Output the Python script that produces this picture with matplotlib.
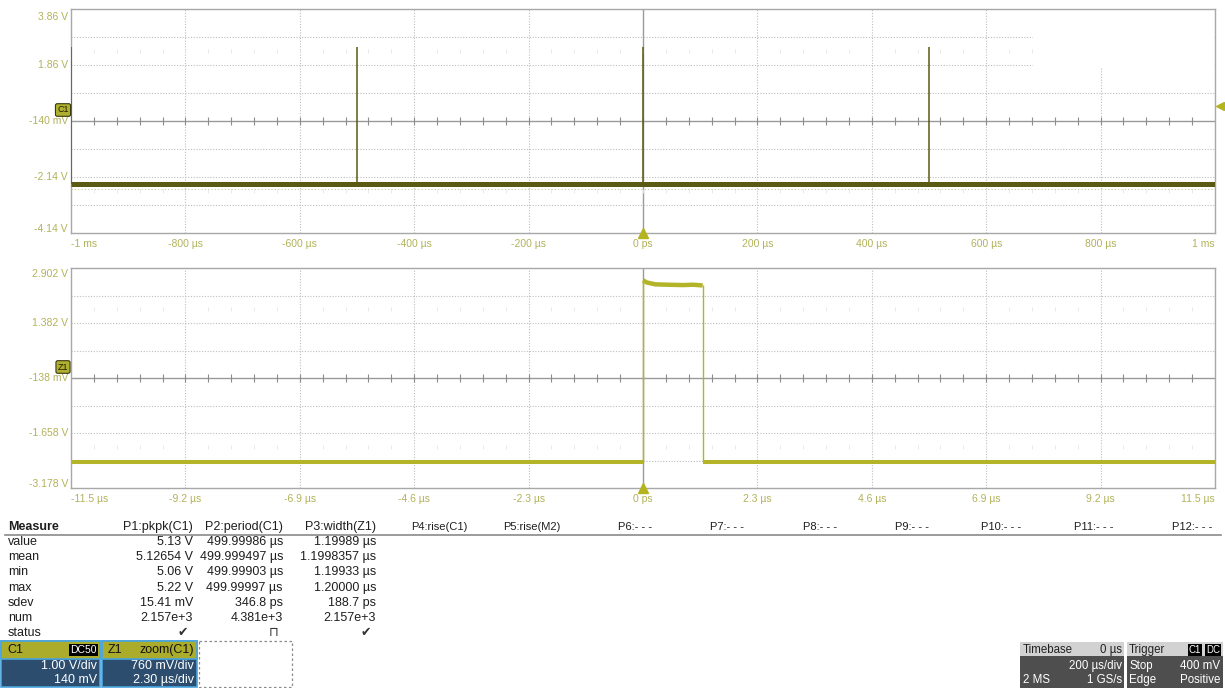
import matplotlib.pyplot as plt
from matplotlib.patches import Rectangle
import matplotlib.transforms as mtrans

plt.rcParams['font.family'] = ['Liberation Sans', 'DejaVu Sans']

W, H = 1225, 688

# channel C1, 200 us/div, 1 V/div
c1_xlabels = ['-1 ms', '-800 µs', '-600 µs', '-400 µs', '-200 µs', '0 ps',
              '200 µs', '400 µs', '600 µs', '800 µs', '1 ms']
c1_ylabels = ['3.86 V', '1.86 V', '-140 mV', '-2.14 V', '-4.14 V']
c1_tdiv, c1_vdiv, c1_offset = 200.0, 1.0, -0.14
c1_pulse_times = [-1000, -500, 0, 500]     # us
c1_low, c1_high = -2.40, 2.50              # V
trig_level = 0.40

# zoom Z1, 2.30 us/div, 760 mV/div
z1_xlabels = ['-11.5 µs', '-9.2 µs', '-6.9 µs', '-4.6 µs', '-2.3 µs', '0 ps',
              '2.3 µs', '4.6 µs', '6.9 µs', '9.2 µs', '11.5 µs']
z1_ylabels = ['2.902 V', '1.382 V', '-138 mV', '-1.658 V', '-3.178 V']
z1_tdiv, z1_vdiv, z1_offset = 2.3, 0.76, -0.138
z1_low = -2.46
z1_top_t = [0.0, 0.08, 0.25, 0.5, 0.8, 1.0, 1.2]
z1_top_v = [2.56, 2.50, 2.45, 2.44, 2.43, 2.44, 2.42]

# measurement table
row_names = ['value', 'mean', 'min', 'max', 'sdev', 'num', 'status']
p_headers = ['P1:pkpk(C1)', 'P2:period(C1)', 'P3:width(Z1)', 'P4:rise(C1)',
             'P5:rise(M2)', 'P6:- - -', 'P7:- - -', 'P8:- - -', 'P9:- - -',
             'P10:- - -', 'P11:- - -', 'P12:- - -']
p1_vals = ['5.13 V', '5.12654 V', '5.06 V', '5.22 V', '15.41 mV', '2.157e+3', '✔']
p2_vals = ['499.99986 µs', '499.999497 µs', '499.99903 µs', '499.99997 µs',
           '346.8 ps', '4.381e+3', '⊓']
p3_vals = ['1.19989 µs', '1.1998357 µs', '1.19933 µs', '1.20000 µs',
           '188.7 ps', '2.157e+3', '✔']

TXT = '#b2b25a'
GRID = '#bdbdbd'
C1_COL = '#5a5a12'
Z1_COL = '#b4b428'

fig = plt.figure(figsize=(W / 100, H / 100), dpi=100)


def px_axes(left, top, right, bottom):
    return fig.add_axes([left / W, 1 - bottom / H, (right - left) / W, (bottom - top) / H])


def scope_grid(ax, tdiv, vdiv, off, xlabels, ylabels, tag, top_dy):
    xmin, xmax = -5 * tdiv, 5 * tdiv
    ymin, ymax = off - 4 * vdiv, off + 4 * vdiv
    ax.set_xlim(xmin, xmax)
    ax.set_ylim(ymin, ymax)
    for k in range(1, 10):
        if k == 5:
            ax.axvline(xmin + k * tdiv, color='#9a9a9a', lw=1.0, zorder=1)
        else:
            ax.axvline(xmin + k * tdiv, color=GRID, lw=0.8, ls=(0, (1, 1.5)), zorder=1)
    for k in range(1, 8):
        if k == 4:
            ax.axhline(ymin + k * vdiv, color='#9a9a9a', lw=1.0, zorder=1)
        else:
            ax.axhline(ymin + k * vdiv, color=GRID, lw=0.8, ls=(0, (1, 1.5)), zorder=1)
    xs = [xmin + j * tdiv / 5 for j in range(1, 50)]
    ax.plot(xs, [off] * len(xs), ls='none', marker='|', ms=6, mew=0.8,
            color='#8c8c8c', zorder=2)
    for s in (-2.5, 2.5):
        ax.plot(xs, [off + s * vdiv] * len(xs), ls='none', marker='|', ms=3.5,
                mew=0.6, color='#e6e6e6', zorder=1)
    for sp in ax.spines.values():
        sp.set_color('#a8a8a8')
        sp.set_linewidth(1.0)
        sp.set_zorder(3.5)
    ax.set_xticks([xmin + k * tdiv for k in range(11)])
    ax.set_xticklabels(xlabels)
    ax.set_yticks([])
    ax.tick_params(length=0, labelsize=7.5, labelcolor=TXT)
    ax.tick_params(axis='x', pad=4)
    xl = ax.get_xticklabels()
    xl[0].set_ha('left')
    xl[-1].set_ha('right')
    # voltage labels, outer ones nudged inside like the scope does
    for k, lab in enumerate(ylabels):
        dy = top_dy if k == 0 else (4 if k == 4 else 0)
        ax.annotate(lab, xy=(0, ymax - k * 2 * vdiv), xycoords=('axes fraction', 'data'),
                    xytext=(-3, dy), textcoords='offset pixels', ha='right',
                    va='center', fontsize=7.5, color=TXT, annotation_clip=False)
    # trigger arrow at t = 0
    ax.plot(0, ymin, marker='^', ms=7, color='#b4b420', clip_on=False, zorder=9)
    # channel tag
    ax.annotate(tag, xy=(xmin, off), xytext=(-8, 11), textcoords='offset pixels',
                ha='center', va='center', fontsize=6.5, color='#202000',
                bbox=dict(boxstyle='round,pad=0.2', fc='#b0b030', ec='#3a3a10', lw=0.8),
                annotation_clip=False, zorder=9)
    return xmin, xmax


# ---- top panel: C1 ----
ax1 = px_axes(71, 9, 1215, 233)
x0, x1 = scope_grid(ax1, c1_tdiv, c1_vdiv, c1_offset, c1_xlabels, c1_ylabels, 'C1', -8)
# screen region left blank in the capture (upper right corner)
ax1.add_patch(Rectangle((0.841, 0.737), 0.158, 0.26, transform=ax1.transAxes,
                        fc='white', ec='none', zorder=3))
ax1.plot([x0, x1], [c1_low - 0.17] * 2, color='#c9c99a', lw=0.8, ls=(0, (1, 2)), zorder=3)
ax1.plot([x0, x1], [c1_low, c1_low], color=C1_COL, lw=3.6, solid_capstyle='butt', zorder=4)
ax1.vlines(c1_pulse_times, c1_low, c1_high, color=C1_COL, lw=1.1, zorder=4)
shift = mtrans.offset_copy(ax1.transData, fig=fig, x=5, y=0, units='dots')
ax1.plot(x1, trig_level, marker='<', ms=6, color='#b4b420', transform=shift,
         clip_on=False, zorder=9)

# ---- bottom panel: Z1 ----
ax2 = px_axes(71, 268, 1215, 488)
x0, x1 = scope_grid(ax2, z1_tdiv, z1_vdiv, z1_offset, z1_xlabels, z1_ylabels, 'Z1', -6)
ax2.plot([x0, z1_top_t[0]], [z1_low, z1_low], color=Z1_COL, lw=2.9,
         solid_capstyle='butt', zorder=4)
ax2.plot([z1_top_t[-1], x1], [z1_low, z1_low], color=Z1_COL, lw=2.9,
         solid_capstyle='butt', zorder=4)
ax2.plot(z1_top_t, z1_top_v, color=Z1_COL, lw=3.2, solid_capstyle='butt', zorder=4)
ax2.vlines([z1_top_t[0], z1_top_t[-1]], z1_low, [z1_top_v[0], z1_top_v[-1]],
           color=Z1_COL, lw=1.0, zorder=4)

# ---- overlay for the table and info boxes (pixel coords) ----
ov = fig.add_axes([0, 0, 1, 1], zorder=-1)
ov.set_xlim(0, W)
ov.set_ylim(H, 0)
ov.axis('off')

FS = 9
ink = '#1e1e1e'
ov.text(8, 527, 'Measure', fontsize=FS, fontweight='bold', color=ink, va='center')
ov.plot([5, 1221], [535, 535], color='#8a8a8a', lw=1.2)
col_right = [193, 283, 376, 467, 560, 652, 744, 837, 929, 1021, 1113, 1212]
for i, (xr, h) in enumerate(zip(col_right, p_headers)):
    ov.text(xr, 527, h, fontsize=FS if i < 3 else 8, color=ink, ha='right', va='center')
row_y = [542, 557, 572, 588, 603, 618, 633]
for y, name, a, b, c in zip(row_y, row_names, p1_vals, p2_vals, p3_vals):
    ov.text(8, y, name, fontsize=FS, color=ink, va='center')
    small = name == 'status'
    for xr, v in zip(col_right[:3], (a, b, c)):
        ov.text(xr - (5 if small else 0), y, v, fontsize=FS,
                color='#333333' if small else ink, ha='right', va='center')

# channel descriptor boxes
OLV = '#acac2c'
BLU = '#2c4d6e'
EDGE = '#48a4e0'
for bx, bw, t1, t2, l1, l2 in [(1, 99, 'C1', None, '1.00 V/div', '140 mV'),
                               (102, 95, 'Z1', 'zoom(C1)', '760 mV/div', '2.30 µs/div')]:
    ov.add_patch(Rectangle((bx, 641), bw, 46, fc=BLU, ec=EDGE, lw=1.2))
    ov.add_patch(Rectangle((bx, 641), bw, 18, fc=OLV, ec=EDGE, lw=1.2))
    ov.text(bx + 6, 650, t1, fontsize=FS, color='#111111', va='center')
    if t2:
        ov.text(bx + bw - 3, 650, t2, fontsize=FS, color='#111111', ha='right', va='center')
    ov.text(bx + bw - 3, 666, l1, fontsize=FS, color='white', ha='right', va='center')
    ov.text(bx + bw - 3, 680, l2, fontsize=FS, color='white', ha='right', va='center')
ov.text(97, 650, 'DC50', fontsize=7.5, color='white', ha='right', va='center',
        bbox=dict(boxstyle='square,pad=0.12', fc='black', ec='none'))
ov.add_patch(Rectangle((199, 641), 93, 46, fc='none', ec='#8a8a8a', lw=0.9,
                       ls=(0, (2, 2))))

# timebase / trigger boxes
GRY = '#4e4e4e'
HDR = '#d2d2d2'
FB = 8.3
for bx, bw in [(1020, 104), (1127, 96)]:
    ov.add_patch(Rectangle((bx, 642), bw, 46, fc=GRY, ec='none'))
    ov.add_patch(Rectangle((bx, 642), bw, 14, fc=HDR, ec='none'))
ov.text(1023, 650, 'Timebase', fontsize=FB, color='#222222', va='center')
ov.text(1122, 650, '0 µs', fontsize=FB, color='#222222', ha='right', va='center')
ov.text(1122, 666, '200 µs/div', fontsize=FB, color='white', ha='right', va='center')
ov.text(1023, 680, '2 MS', fontsize=FB, color='white', va='center')
ov.text(1122, 680, '1 GS/s', fontsize=FB, color='white', ha='right', va='center')
ov.text(1129, 650, 'Trigger', fontsize=FB, color='#222222', va='center')
ov.text(1201, 650, 'C1', fontsize=7, color='white', ha='right', va='center',
        bbox=dict(boxstyle='square,pad=0.1', fc='black', ec='none'))
ov.text(1220, 650, 'DC', fontsize=7, color='white', ha='right', va='center',
        bbox=dict(boxstyle='square,pad=0.1', fc='black', ec='none'))
ov.text(1129, 666, 'Stop', fontsize=FB, color='white', va='center')
ov.text(1220, 666, '400 mV', fontsize=FB, color='white', ha='right', va='center')
ov.text(1129, 680, 'Edge', fontsize=FB, color='white', va='center')
ov.text(1220, 680, 'Positive', fontsize=FB, color='white', ha='right', va='center')

fig.savefig('out.png', dpi=100)
